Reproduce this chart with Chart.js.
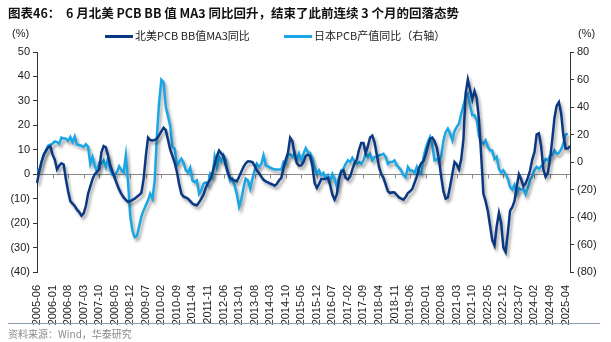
<!DOCTYPE html>
<html>
<head>
<meta charset="utf-8">
<script src="https://cdn.jsdelivr.net/npm/chart.js@4.4.1/dist/chart.umd.min.js"></script>
<style>
  body { margin: 0; background: #fff; }
  #wrap { position: relative; width: 611px; height: 342px; font-family: "Liberation Sans", "Noto Sans CJK SC", sans-serif; color: #222; }
  #chart { position: absolute; left: 0; top: 0; }
  .title { position: absolute; left: 8px; top: 3px; font: bold 12.5px "Noto Sans CJK SC", sans-serif; color: #111; white-space: nowrap; }
  .unit { position: absolute; top: 27px; font-size: 11px; }
  .leg { position: absolute; top: 27px; font: 11px "Noto Sans CJK SC", "Liberation Sans", sans-serif; white-space: nowrap; }
  .leg i { display: inline-block; width: 28px; height: 3px; vertical-align: middle; margin-right: 2px; position: relative; top: -1px; }
  .rule { position: absolute; left: 8px; top: 323px; width: 592px; height: 1px; background: #8c9db5; }
  .source { position: absolute; left: 8px; top: 326px; font: 10px "Noto Sans CJK SC", sans-serif; color: #8a8a8a; }
</style>
</head>
<body>
<div id="wrap">
  <canvas id="chart" width="611" height="342"></canvas>
  <div class="title">图表46：&nbsp; 6 月北美 PCB BB 值 MA3 同比回升，结束了此前连续 3 个月的回落态势</div>
  <div class="unit" style="left:12px">(%)</div>
  <div class="unit" style="left:578px">(%)</div>
  <div class="leg" style="left:105px"><i style="background:#0b3883"></i>北美PCB BB值MA3同比</div>
  <div class="leg" style="left:284px"><i style="background:#1aa6e4"></i>日本PCB产值同比（右轴）</div>
  <div class="rule"></div>
  <div class="source">资料来源：Wind，华泰研究</div>
</div>
<script>
// monthly, 2005-06 .. 2025-06
const months = [];
for (let y = 2005, m = 6; y < 2025 || (y === 2025 && m <= 6); m++) {
    if (m > 12) { m = 1; y++; }
    if (y === 2025 && m > 6) break;
    months.push(y + '-' + String(m).padStart(2, '0'));
}

// 北美PCB BB值MA3同比 (%), left axis
const naBB = [
    -3.6, 1, 5, 8, 9.5, 11, 11.5, 8, 6, 2,
    3.5, 4.5, 4, -2, -7, -11, -12, -13, -14.5, -15.5,
    -17, -16, -13, -8, -5, -2, 0, 1, 2, 9,
    11.5, 11, 7.5, 3.5, 1, -1.5, -4, -6.3, -8, -9.5,
    -10.5, -11.3, -11, -10.5, -10, -9.2, -8.5, -7.6, -2, 7.4,
    15, 14, 13.8, 14, 14.6, 16, 17.5, 19, 18, 14,
    10, 7.4, 4.6, 1, -4, -8, -9.2, -9.5, -10, -11,
    -12, -12.5, -12.7, -11.5, -10, -8.3, -5.5, -3.5, -2.2, 0.5,
    4, 7.4, 9.7, 8.5, 7.4, 3.5, 0.5, -1.5, -2.2, -2.5,
    -2.9, -1, 1, 3, 4.5, 5.3, 5.2, 5, 3.5, 1.5,
    0.5, -1, -2.3, -2.9, -3.3, -3.8, -4.2, -4.7, -4, -2.5,
    -1.5, 2.5, 6, 8.7, 14.9, 13.5, 8, 4.5, 3.5, 3.6,
    5, 7.5, 8, 7.4, 3.3, -3.6, -5.6, -4, -2, -2,
    -1.8, -1.5, -4.5, -8.3, -10.4, -8.3, -2.2, 1, 1.6, -1.5,
    -2.2, -1, 2, 4.5, 6, 10, 12.8, 12.8, 8.7, 11.5,
    15, 15.8, 13, 8, 3, 0, -1.5, -4.2, -7, -7.7,
    -7.4, -7.5, -8.5, -9.5, -10, -10.4, -9.3, -7.7, -7, -6,
    -3.5, -1, 2.5, 4.5, 5.3, 8, 11.5, 14.5, 15, 13.5,
    11, 6, -1, -7, -10, -9.5, -5, 0, 5, 4,
    2, 6, 14, 33, 38.8, 34.7, 30.6, 34, 31, 22.4,
    8, -8, -11, -15, -21, -27, -29.2, -21.3, -15.8, -20,
    -30, -31.8, -24, -15, -13.5, -11, -5, 0, -2, -4.9,
    -3.8, -1.5, 1.5, 6, 9, 16.3, 16.7, 11.5, 2, -1,
    0.5, 6, 14, 23, 28, 29.5, 25, 16, 10.5, 10.5,
    11.5
];

// 日本PCB产值同比 (%), right axis
const jpPCB = [
    -6.6, -5.9, -0.6, 4.8, 8.3, 11.9, 12.7, 13.3, 15.0, 14.5,
    13.3, 17.7, 17.2, 17.0, 15.4, 18.2, 14.5, 18.6, 12.6, 12.4,
    11.9, 11.0, 12.9, 11.0, -1.3, 3.7, -2.4, -7.3, -0.6, -1.3,
    1.2, -3.6, 3.0, -5.9, -9.5, -9.5, -7.3, -3.2, -5.9, -7.7,
    4.8, -14.8, -39.6, -50.3, -54.7, -53.8, -46.7, -39.6, -35.2, -31.5,
    -27.9, -23.1, -26.7, -13.4, 19.5, 43.8, 59.8, 58.0, 40.2, 33.2,
    26.1, 11.0, 9.7, -2.4, 0.0, 2.4, -0.6, -5.9, -7.7, -4.1,
    -13.4, -14.6, -13.4, -23.1, -20.6, -15.7, -14.8, -16.6, -8.6, -10.9,
    3.7, -3.6, 3.7, 0.3, 4.8, 1.2, -8.6, -13.9, -12.1, -17.4,
    -23.6, -32.5, -27.2, -18.3, -12.1, -13.4, -19.4, -12.1, -5.9, -1.3,
    -3.6, -1.5, 4.8, -2.4, -3.2, -4.1, -4.8, -5.5, -5.5, -5.5,
    -5.5, 0.0, -1.3, 4.8, 5.6, 3.7, 7.2, 1.2, 6.0, 1.2,
    6.0, 10.1, 7.2, 6.5, 2.4, -3.6, -8.6, -6.1, -9.6, -8.0,
    -12.1, -9.6, -13.4, -8.6, -12.1, -18.2, -10.9, -6.1, -4.8, -1.3,
    1.2, 0.0, 3.0, 0.3, -1.3, 0.0, -1.3, 1.2, 6.5, 3.7,
    6.0, 1.2, 3.7, 3.7, 4.8, 5.3, 6.0, 3.7, -1.3, 0.0,
    0.0, 1.2, -2.4, -4.1, -6.1, -9.6, -10.9, -3.6, -6.1, -6.1,
    -8.0, -3.6, -7.3, -8.6, 3.0, 9.7, 14.5, 18.2, 12.2, 1.2,
    2.1, 0.0, 3.9, 15.4, 21.6, 24.3, 20.7, 15.8, 22.5, 25.5,
    27.8, 34.9, 41.1, 47.4, 49.7, 41.1, 34.0, 34.0, 30.5, 19.0,
    14.5, 13.3, 15.8, 11.0, 8.5, 8.3, 2.1, 3.7, -5.0, -7.7,
    -6.1, -8.9, -12.1, -18.2, -20.1, -16.6, -23.1, -19.2, -20.1, -19.4,
    -23.6, -19.2, -13.0, -10.3, -6.1, -3.6, -5.0, -3.2, -1.3, 2.1,
    1.2, 4.8, 4.8, 8.5, 6.0, 6.5, 9.2, 13.3, 19.8, 20.7,
    null
];

const LABEL_EVERY = 7;
const fmt = v => v < 0 ? '(' + Math.abs(v) + ')' : String(v);
const tickFont = { family: 'Liberation Sans', size: 11 };

// zero line with small ticks, drawn under the series
const zeroLine = {
    id: 'zeroLine',
    beforeDatasetsDraw(chart) {
        const { ctx, chartArea: a, scales } = chart;
        const y0 = Math.round(scales.y.getPixelForValue(0)) + 0.5;
        ctx.save();
        ctx.strokeStyle = '#8a8a8a';
        ctx.lineWidth = 1;
        ctx.beginPath();
        ctx.moveTo(a.left, y0); ctx.lineTo(a.right, y0);
        months.forEach((m, i) => {
            if (i % LABEL_EVERY) return;
            const x = Math.round(scales.x.getPixelForValue(i)) + 0.5;
            ctx.moveTo(x, y0); ctx.lineTo(x, y0 + 4);
        });
        ctx.stroke();
        ctx.restore();
    }
};

// soft drop shadow under lines
const shadow = {
    id: 'shadow',
    beforeDatasetDraw(chart) {
        const ctx = chart.ctx;
        ctx.save();
        ctx.shadowColor = 'rgba(0,0,0,0.35)';
        ctx.shadowBlur = 3;
        ctx.shadowOffsetX = 2;
        ctx.shadowOffsetY = 3;
    },
    afterDatasetDraw(chart) { chart.ctx.restore(); }
};

new Chart(document.getElementById('chart'), {
    type: 'line',
    data: {
        labels: months,
        datasets: [
            { label: '北美PCB BB值MA3同比', data: naBB, yAxisID: 'y', borderColor: '#0b3883', borderWidth: 2.5, pointRadius: 0, tension: 0 },
            { label: '日本PCB产值同比（右轴）', data: jpPCB, yAxisID: 'y1', borderColor: '#1aa6e4', borderWidth: 2.5, pointRadius: 0, tension: 0 }
        ]
    },
    options: {
        responsive: false, animation: false, devicePixelRatio: 1,
        layout: { padding: { top: 52, left: 0, right: 0, bottom: 0 } },
        plugins: { legend: { display: false }, tooltip: { enabled: false } },
        scales: {
            x: {
                grid: { display: false }, border: { display: false },
                ticks: {
                    autoSkip: false, maxRotation: 90, minRotation: 90, padding: 5,
                    color: '#222', font: tickFont,
                    callback: (v, i) => i % LABEL_EVERY === 0 ? months[i] : ''
                },
                afterFit: s => { s.height = 70; }
            },
            y: {
                position: 'left', min: -40, max: 50,
                ticks: { stepSize: 10, color: '#222', font: tickFont, padding: 3, callback: fmt },
                grid: { drawOnChartArea: false, tickLength: 4, color: '#333' },
                border: { color: '#333' },
                afterFit: s => { s.width = 37; }
            },
            y1: {
                position: 'right', min: -80, max: 80,
                ticks: { stepSize: 20, color: '#222', font: tickFont, padding: 3, callback: fmt },
                grid: { drawOnChartArea: false, tickLength: 4, color: '#333' },
                border: { color: '#333' },
                afterFit: s => { s.width = 41; }
            }
        }
    },
    plugins: [zeroLine, shadow]
});
</script>
</body>
</html>
